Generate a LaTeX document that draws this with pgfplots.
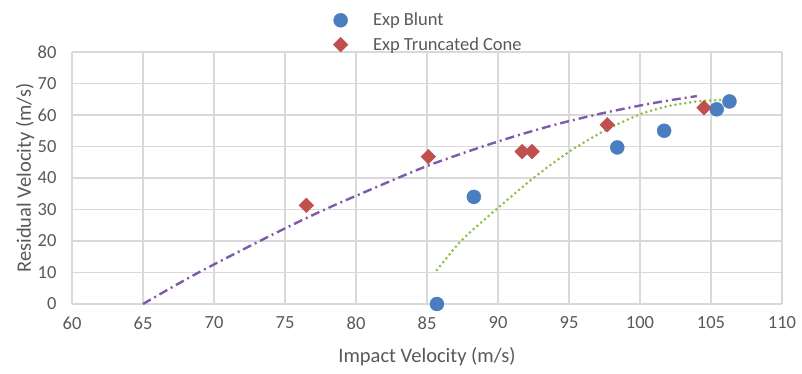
\documentclass[border=0pt]{standalone}
\usepackage{fontspec}
\setmainfont{Carlito}
\usepackage{pgfplots}
\pgfplotsset{compat=1.18}
\definecolor{blunt}{HTML}{4A7EC0}
\definecolor{cone}{HTML}{C0504D}
\definecolor{trendp}{HTML}{7E5BAA}
\definecolor{trendg}{HTML}{92C048}
\definecolor{gridgray}{HTML}{D9D9D9}
\definecolor{textgray}{HTML}{595959}
\begin{document}
\begin{tikzpicture}
\begin{axis}[
  name=ax,
  scale only axis, width=710pt, height=252pt,
  xmin=60, xmax=110, ymin=0, ymax=80,
  xtick distance=5, ytick distance=10,
  grid=major,
  major grid style={draw=gridgray, line width=1.3pt},
  axis line style={draw=gridgray, line width=1.3pt},
  axis x line*=bottom, axis y line*=left,
  tick style={draw=none},
  ticklabel style={font=\fontsize{18.5}{20}\selectfont, text=textgray},
  xticklabel style={yshift=-9pt},
  yticklabel style={xshift=-12pt},
  /pgf/number format/assume math mode=true,
  xlabel={Impact Velocity (m/s)},
  ylabel={Residual Velocity (m/s)},
  every axis x label/.style={at={(axis description cs:0.5,0)}, anchor=center, yshift=-53pt, font=\fontsize{20.5}{22}\selectfont, text=textgray},
  every axis y label/.style={at={(axis description cs:0,0.5)}, xshift=-47pt, rotate=90, anchor=center, font=\fontsize{20.5}{22}\selectfont, text=textgray},
  legend style={at={(axis description cs:0.5,1)}, anchor=south, yshift=-2pt, xshift=1.5pt,
    draw=none, fill=none, font=\fontsize{18.5}{20}\selectfont, text=textgray,
    row sep=6pt, inner sep=0pt},
  legend cell align=left,
  clip=false,
]
\addplot[only marks, mark=*, mark size=7pt, draw=blunt, fill=blunt] coordinates {
(85.7,0) (88.3,34.0) (98.4,49.7) (101.7,55.0) (105.4,61.8) (106.3,64.3)
};
\addlegendentry{\hspace*{23pt}Exp Blunt}
\addplot[only marks, mark=square*, mark options={rotate=45}, mark size=5.2pt, draw=cone, fill=cone] coordinates {
(76.5,31.3) (85.1,46.8) (91.7,48.4) (92.4,48.4) (97.7,56.9) (104.5,62.3)
};
\addlegendentry{\hspace*{23pt}Exp Truncated Cone}
\addplot[forget plot, smooth, draw=trendp, line width=2.4pt, dash pattern=on 9pt off 4pt on 2pt off 4pt] coordinates {
(65,0) (67,5.2) (69,10.2) (72,17.2) (75,24) (78,30.4) (82,38.2) (85,43.8) (88,48.6) (91,53) (94,56.9) (97,60.2) (100,63) (102,64.6) (104,66)
};
\addplot[forget plot, smooth, draw=trendg, line width=3pt, line cap=round, dash pattern=on 0pt off 5pt] coordinates {
(85.7,10.8) (87.5,20.5) (90,30.5) (92.5,40) (95,48.3) (97.5,55) (100,60.2) (102,62.8) (104,64.3) (106.2,64.9)
};
\end{axis}
\pgfresetboundingbox
\path ([xshift=-72pt,yshift=-70pt]ax.south west) rectangle ([xshift=20pt,yshift=52pt]ax.north east);
\end{tikzpicture}
\end{document}
